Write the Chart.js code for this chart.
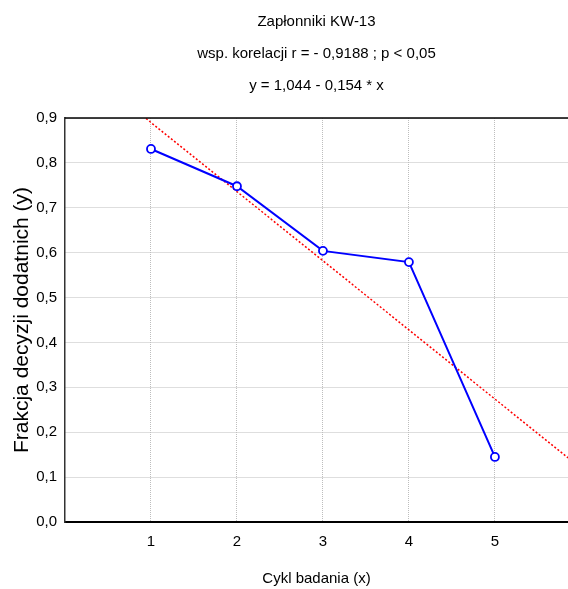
<!DOCTYPE html>
<html>
<head>
<meta charset="utf-8">
<script src="https://cdn.jsdelivr.net/npm/chart.js@4.4.1/dist/chart.umd.min.js"></script>
<style>
  html, body { margin: 0; padding: 0; background: #fff; }
  #wrap { width: 568px; height: 589px; position: relative; }
</style>
</head>
<body>
<div id="wrap"><canvas id="chart"></canvas></div>
<script>
// --- Data ---
const titleLines = ['Zapłonniki KW-13', 'wsp. korelacji r = - 0,9188 ; p < 0,05', 'y = 1,044 - 0,154 * x'];
const cycles = [1, 2, 3, 4, 5];
const fractions = [0.831, 0.748, 0.604, 0.579, 0.145];
const fitX = [0, 5.85];
const fitY = [1.044, 0.143];
const xTicks = [1, 2, 3, 4, 5];
const yTicks = [0, 0.1, 0.2, 0.3, 0.4, 0.5, 0.6, 0.7, 0.8, 0.9];

const FONT = "'Liberation Sans', Arial, sans-serif";

// draw the top frame line like the original
const topBorder = {
    id: 'topBorder',
    afterDraw(chart) {
        const a = chart.chartArea;
        const ctx = chart.ctx;
        ctx.save();
        ctx.strokeStyle = '#000';
        ctx.lineWidth = 1.5;
        ctx.beginPath();
        ctx.moveTo(a.left, a.top);
        ctx.lineTo(a.right, a.top);
        ctx.stroke();
        ctx.restore();
    }
};

new Chart(document.getElementById('chart'), {
    type: 'line',
    data: {
        datasets: [{
            label: 'Frakcja',
            data: cycles.map((x, i) => ({ x: x, y: fractions[i] })),
            borderColor: '#0000ff',
            borderWidth: 2,
            pointRadius: 4,
            pointBackgroundColor: '#fff',
            pointBorderColor: '#0000ff',
            pointBorderWidth: 1.8,
            tension: 0,
            order: 1
        }, {
            label: 'Regresja',
            data: fitX.map((x, i) => ({ x: x, y: fitY[i] })),
            borderColor: '#ff0000',
            borderWidth: 1.5,
            borderDash: [2, 2],
            pointRadius: 0,
            tension: 0,
            order: 2
        }]
    },
    options: {
        responsive: true,
        maintainAspectRatio: false,
        animation: false,
        layout: { padding: 0, autoPadding: false },
        plugins: {
            legend: { display: false },
            tooltip: { enabled: false },
            title: {
                display: true,
                fullSize: false,
                text: titleLines,
                color: '#000',
                font: { family: FONT, size: 15, weight: 'normal', lineHeight: '32px' },
                padding: { top: 6, bottom: 16 }
            }
        },
        scales: {
            x: {
                type: 'linear',
                min: 0,
                max: 5.85,
                afterBuildTicks: axis => { axis.ticks = xTicks.map(v => ({ value: v })); },
                afterFit: axis => { axis.height = 67; axis.paddingLeft = 0; axis.paddingRight = 0; },
                ticks: {
                    color: '#000',
                    font: { family: FONT, size: 15 },
                    padding: 11
                },
                grid: { color: '#bdbdbd', drawTicks: false },
                border: { color: '#000', width: 2, dash: [1, 1] },
                title: {
                    display: true,
                    text: 'Cykl badania (x)',
                    color: '#000',
                    font: { family: FONT, size: 15 },
                    padding: { top: 20, bottom: 1 }
                }
            },
            y: {
                min: 0,
                max: 0.9,
                afterBuildTicks: axis => { axis.ticks = yTicks.map(v => ({ value: v })); },
                afterFit: axis => { axis.width = 65; },
                ticks: {
                    color: '#000',
                    font: { family: FONT, size: 15 },
                    padding: 8,
                    callback: v => v.toFixed(1).replace('.', ',')
                },
                grid: { color: '#bdbdbd', drawTicks: false },
                border: { color: '#333', width: 1.5, dash: [1, 1] },
                title: {
                    display: true,
                    text: 'Frakcja decyzji dodatnich (y)',
                    color: '#000',
                    font: { family: FONT, size: 21 },
                    padding: { top: 10, bottom: 0 }
                }
            }
        }
    },
    plugins: [topBorder]
});
</script>
</body>
</html>
